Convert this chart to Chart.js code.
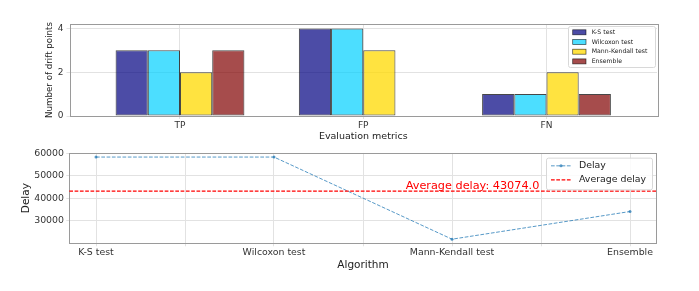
<!DOCTYPE html>
<html>
<head>
<meta charset="utf-8">
<script src="https://cdn.jsdelivr.net/npm/chart.js@4"></script>
<style>
  html, body { margin: 0; padding: 0; background: #fff; }
  #wrap { position: relative; width: 699px; height: 291px; }
  canvas { position: absolute; left: 0; }
</style>
</head>
<body>
<div id="wrap">
  <canvas id="barChart" width="699" height="145" style="top:0"></canvas>
  <canvas id="delayChart" width="699" height="146" style="top:145px"></canvas>
</div>
<script>
// Data
const metrics = ["TP", "FP", "FN"];
const ksCounts = [3, 4, 1];
const wilcoxonCounts = [3, 4, 1];
const mannKendallCounts = [2, 3, 2];
const ensembleCounts = [3, 0, 1];
const countTicks = [0, 2, 4];

const algorithms = ["K-S test", "Wilcoxon test", "Mann-Kendall test", "Ensemble"];
const delays = [58250, 58250, 21750, 34046];
const averageDelay = 43074.0;
const delayTicks = [30000, 40000, 50000, 60000];

Chart.defaults.font.family = "'DejaVu Sans', sans-serif";
Chart.defaults.animation = false;

const gridColor = "#e2e2e2";
const tickColor = "#333";

// matplotlib-like frame around the plot area
const frame = {
  id: "frame",
  afterDatasetsDraw(chart) {
    const a = chart.chartArea, ctx = chart.ctx;
    ctx.save();
    ctx.strokeStyle = "#9a9a9a";
    ctx.lineWidth = 1;
    ctx.strokeRect(Math.round(a.left) + 0.5, Math.round(a.top) + 0.5,
      Math.round(a.right - a.left), Math.round(a.bottom - a.top));
    ctx.restore();
  }
};

function legendFrame(ctx, x, y, w, h) {
  ctx.save();
  ctx.fillStyle = "rgba(255,255,255,0.85)";
  ctx.strokeStyle = "#d8d8d8";
  ctx.lineWidth = 1;
  ctx.beginPath();
  ctx.roundRect(x + 0.5, y + 0.5, w, h, 2);
  ctx.fill();
  ctx.stroke();
  ctx.restore();
}

// Bar chart
const barColors = ["rgba(0,0,128,0.7)", "rgba(0,208,255,0.7)", "rgba(255,218,0,0.75)", "rgba(128,0,0,0.7)"];
const barEdge = "rgba(0,0,0,0.72)";
const barNames = ["K-S test", "Wilcoxon test", "Mann-Kendall test", "Ensemble"];
const barSeries = [ksCounts, wilcoxonCounts, mannKendallCounts, ensembleCounts];

const barLegend = {
  id: "barLegend",
  afterDraw(chart) {
    const a = chart.chartArea, ctx = chart.ctx;
    const w = 87, h = 41;
    const x0 = a.right - 2 - w, y0 = a.top + 2;
    legendFrame(ctx, x0, y0, w, h);
    ctx.save();
    ctx.font = "6.2px 'DejaVu Sans'";
    ctx.textBaseline = "middle";
    barNames.forEach((name, i) => {
      const cy = y0 + 6.3 + i * 9.7;
      ctx.fillStyle = barColors[i];
      ctx.fillRect(x0 + 4.7, cy - 2.5, 13.3, 5);
      ctx.strokeStyle = barEdge;
      ctx.lineWidth = 0.7;
      ctx.strokeRect(x0 + 4.7, cy - 2.5, 13.3, 5);
      ctx.fillStyle = "#222";
      ctx.fillText(name, x0 + 23.7, cy);
    });
    ctx.restore();
  }
};

new Chart(document.getElementById("barChart"), {
  type: "bar",
  data: {
    datasets: barSeries.map((series, k) => ({
      label: barNames[k],
      data: series.map((v, i) => ({ x: i, y: v })),
      backgroundColor: barColors[k],
      borderColor: barEdge,
      borderWidth: 1,
      borderSkipped: false,
      categoryPercentage: 0.703,
      barPercentage: 1
    }))
  },
  options: {
    responsive: false,
    layout: { padding: { left: 45, top: 24, right: 42, bottom: 0 } },
    plugins: { legend: { display: false }, tooltip: { enabled: false } },
    scales: {
      x: {
        type: "linear", min: -0.603, max: 2.603, offset: false,
        afterBuildTicks: s => { s.ticks = metrics.map((_, i) => ({ value: i })); },
        afterFit: s => { s.height = 29; },
        ticks: { callback: v => metrics[v], font: { size: 9 }, color: tickColor, padding: 1, maxRotation: 0, autoSkip: false },
        grid: { color: gridColor, tickLength: 3, offset: false },
        border: { display: false },
        title: { display: true, text: "Evaluation metrics", color: "#222", font: { size: 9.5, lineHeight: 1 }, padding: { top: 0, bottom: 4 } }
      },
      y: {
        min: 0, max: 4.2,
        afterBuildTicks: s => { s.ticks = countTicks.map(v => ({ value: v })); },
        afterFit: s => { s.width = 24.5; },
        ticks: { font: { size: 9 }, color: tickColor, padding: 3 },
        grid: { color: gridColor, tickLength: 3 },
        border: { display: false },
        title: { display: true, text: "Number of drift points", color: "#222", font: { size: 8.7, lineHeight: 1 }, padding: 0 }
      }
    }
  },
  plugins: [frame, barLegend]
});

// Delay chart
const delayColor = "rgba(31,119,180,0.75)";
const dash = [3.7, 1.6];
const avgLabelX = 1.74;

const avgLine = {
  id: "avgLine",
  afterDatasetsDraw(chart) {
    const a = chart.chartArea, ctx = chart.ctx;
    const y = chart.scales.y.getPixelForValue(averageDelay);
    ctx.save();
    ctx.strokeStyle = "red";
    ctx.lineWidth = 1.2;
    ctx.setLineDash(dash);
    ctx.beginPath();
    ctx.moveTo(a.left, y);
    ctx.lineTo(a.right, y);
    ctx.stroke();
    ctx.setLineDash([]);
    ctx.fillStyle = "red";
    ctx.font = "11.25px 'DejaVu Sans'";
    ctx.textBaseline = "alphabetic";
    ctx.fillText("Average delay: " + averageDelay.toFixed(1), chart.scales.x.getPixelForValue(avgLabelX), y - 2.6);
    ctx.restore();
  }
};

const delayLegend = {
  id: "delayLegend",
  afterDraw(chart) {
    const a = chart.chartArea, ctx = chart.ctx;
    const w = 106, h = 31.7;
    const x0 = a.right - 4.7 - w, y0 = a.top + 4.7;
    legendFrame(ctx, x0, y0, w, h);
    ctx.save();
    ctx.font = "9.4px 'DejaVu Sans'";
    ctx.textBaseline = "middle";
    const rows = [
      { label: "Delay", color: delayColor, width: 1, marker: true },
      { label: "Average delay", color: "red", width: 1.2, marker: false }
    ];
    rows.forEach((r, i) => {
      const cy = y0 + 8.2 + i * 14.1;
      ctx.strokeStyle = r.color;
      ctx.lineWidth = r.width;
      ctx.setLineDash(dash);
      ctx.beginPath();
      ctx.moveTo(x0 + 5, cy);
      ctx.lineTo(x0 + 25, cy);
      ctx.stroke();
      ctx.setLineDash([]);
      if (r.marker) {
        ctx.fillStyle = r.color;
        ctx.beginPath();
        ctx.arc(x0 + 15, cy, 1.5, 0, Math.PI * 2);
        ctx.fill();
      }
      ctx.fillStyle = "#222";
      ctx.fillText(r.label, x0 + 33, cy);
    });
    ctx.restore();
  }
};

new Chart(document.getElementById("delayChart"), {
  type: "line",
  data: {
    datasets: [{
      label: "Delay",
      data: delays.map((v, i) => ({ x: i, y: v })),
      borderColor: delayColor,
      backgroundColor: delayColor,
      borderWidth: 1,
      borderDash: dash,
      pointRadius: 1.5,
      pointBorderWidth: 0,
      tension: 0
    }]
  },
  options: {
    responsive: false,
    layout: { padding: { left: 21.5, top: 6.3, right: 42.3, bottom: 0 } },
    plugins: { legend: { display: false }, tooltip: { enabled: false } },
    scales: {
      x: {
        type: "linear", min: -0.15, max: 3.15,
        afterBuildTicks: s => { s.ticks = algorithms.flatMap((_, i) => i ? [i - 0.5, i] : [0]).map(v => ({ value: v })); },
        afterFit: s => { s.height = 47.7; },
        ticks: { callback: v => Number.isInteger(v) ? algorithms[v] : "", font: { size: 9.4 }, color: tickColor, padding: 1, maxRotation: 0, autoSkip: false },
        grid: { color: gridColor, tickLength: 3 },
        border: { display: false },
        title: { display: true, text: "Algorithm", color: "#222", font: { size: 10.5, lineHeight: 1 }, padding: { top: 0, bottom: 20.75 } }
      },
      y: {
        min: 19925, max: 60075,
        afterBuildTicks: s => { s.ticks = delayTicks.map(v => ({ value: v })); },
        afterFit: s => { s.width = 47.8; },
        ticks: { callback: v => String(v), font: { size: 9.4 }, color: tickColor, padding: 2.3 },
        grid: { color: gridColor, tickLength: 3 },
        border: { display: false },
        title: { display: true, text: "Delay", color: "#222", font: { size: 10.5, lineHeight: 1 }, padding: 0 }
      }
    }
  },
  plugins: [frame, avgLine, delayLegend]
});
</script>
</body>
</html>
